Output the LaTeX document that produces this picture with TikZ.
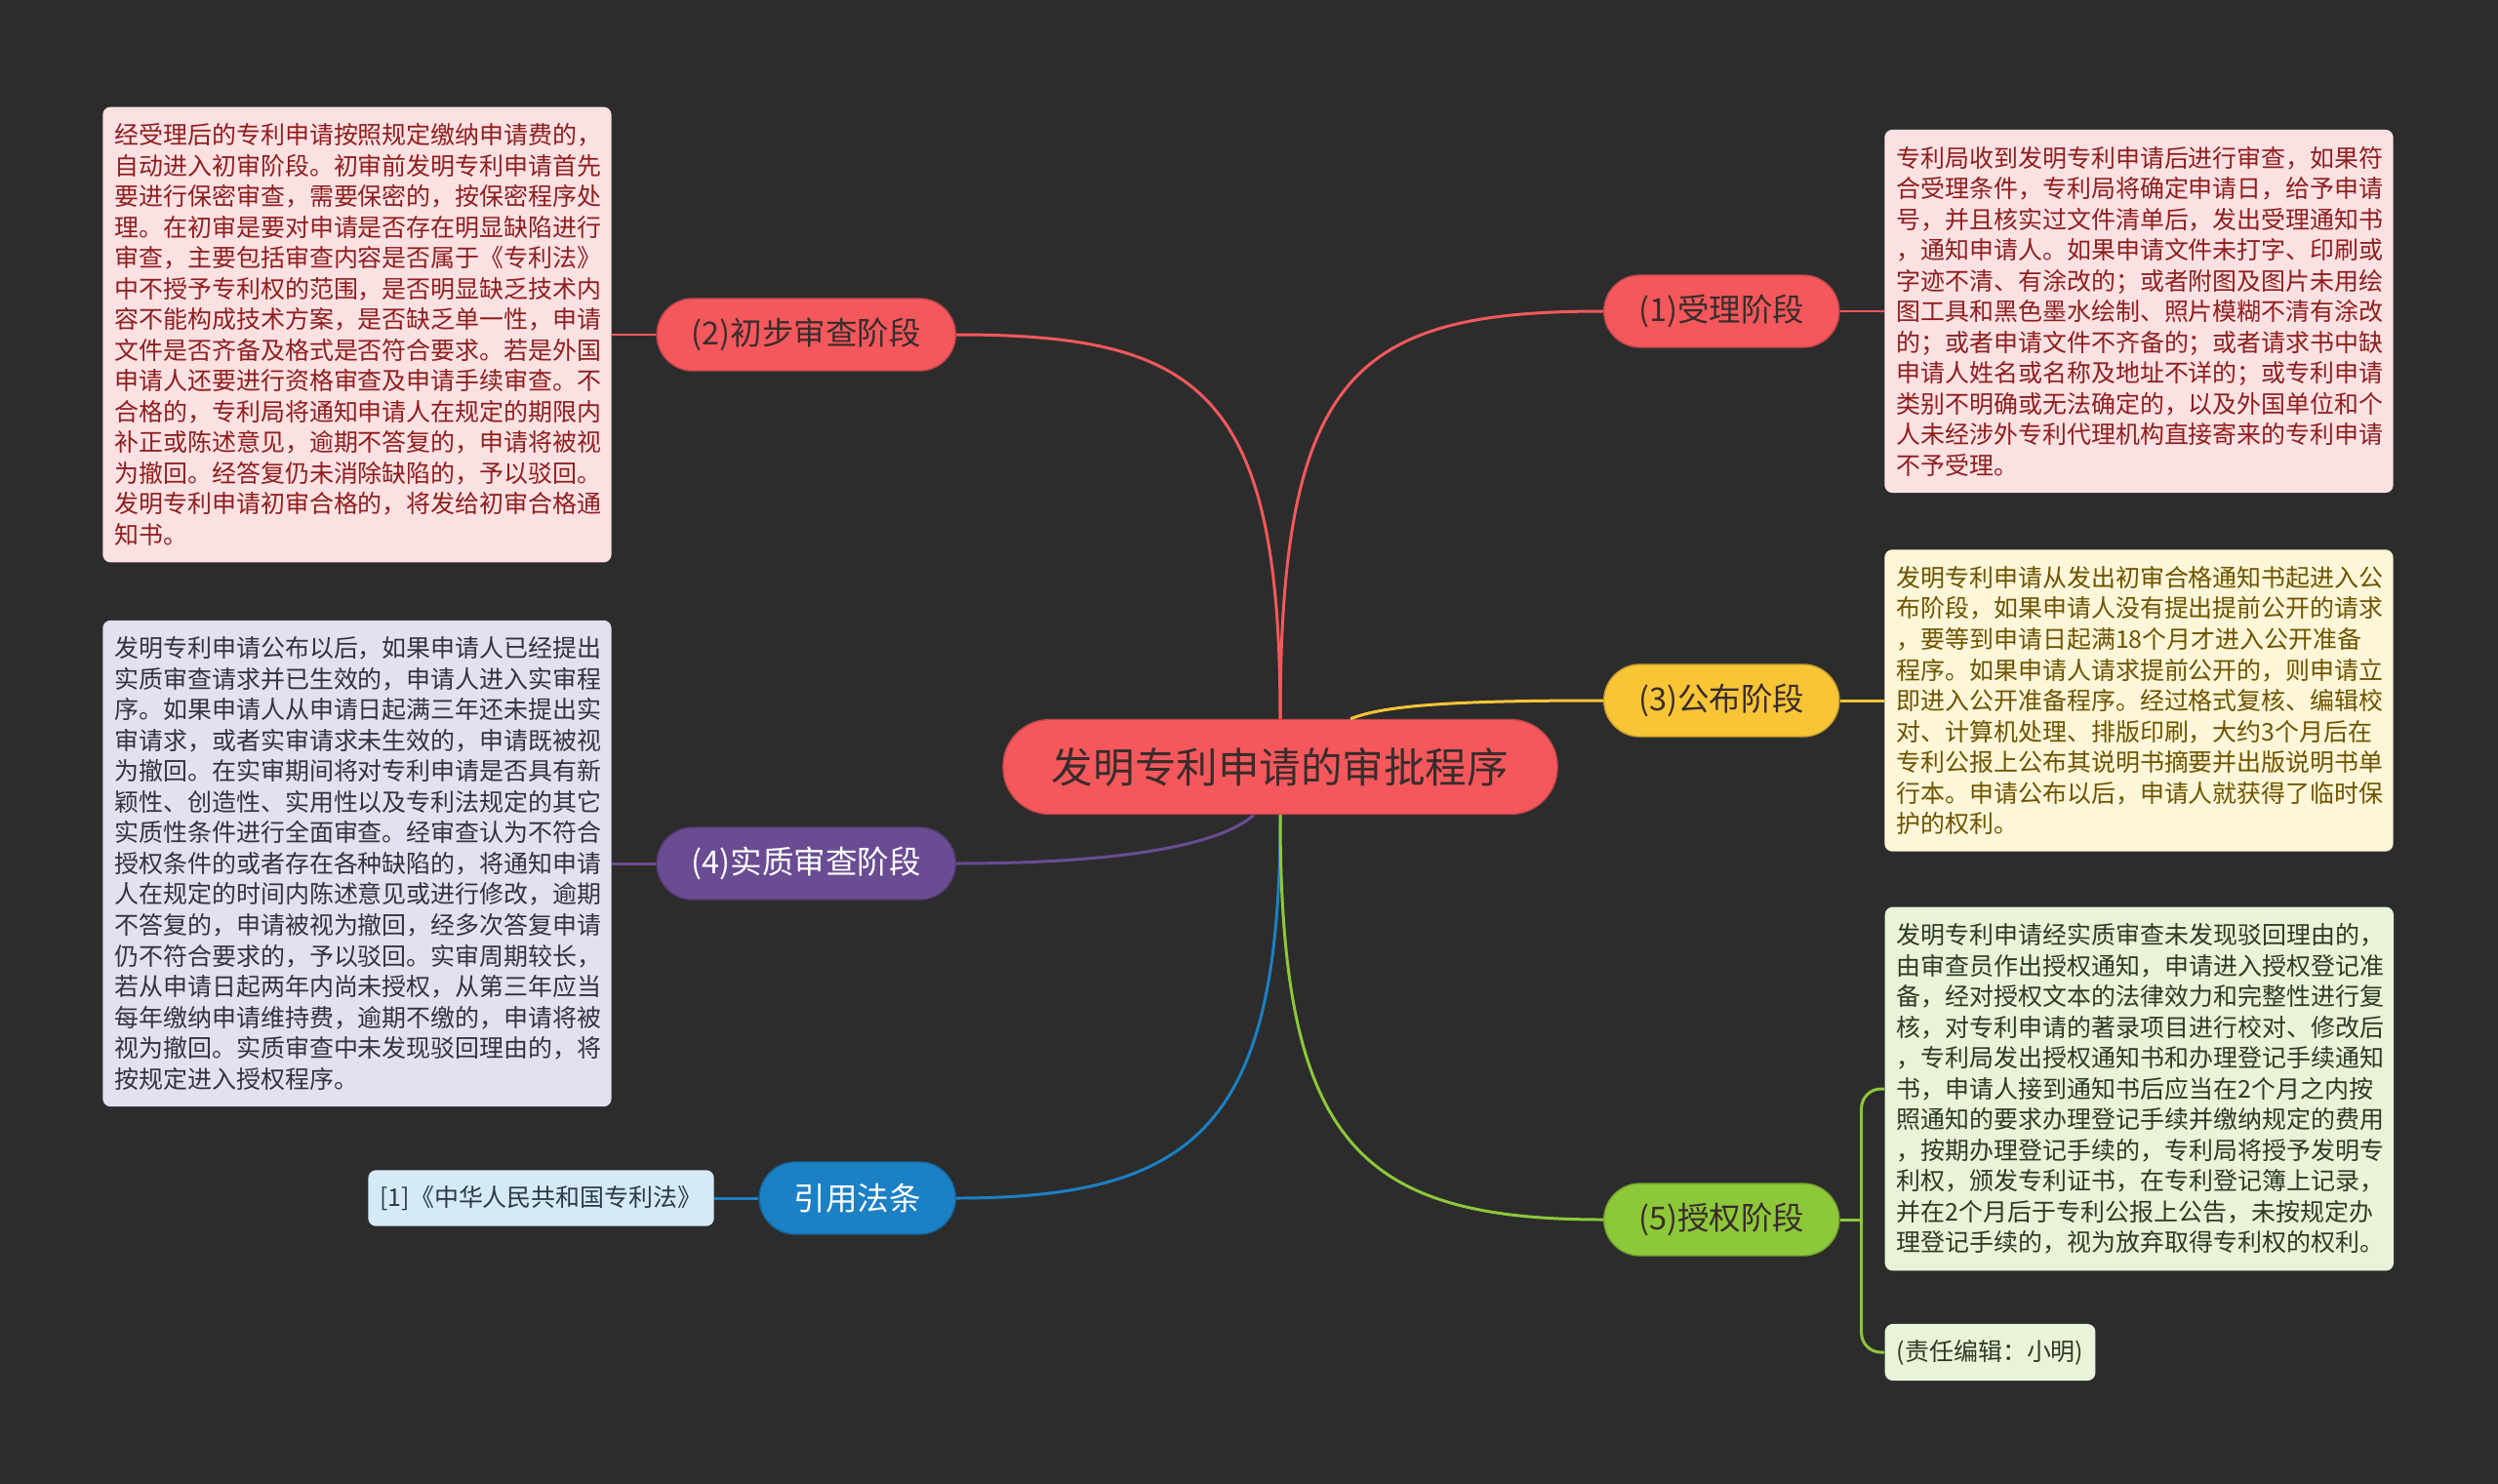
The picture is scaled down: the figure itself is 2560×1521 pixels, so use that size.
\documentclass[tikz,border=0pt]{standalone}
\usepackage{fontspec}
\setmainfont{Noto Sans CJK SC}
\usepackage{tikz}
\usetikzlibrary{positioning}

\definecolor{bgdark}{HTML}{2C2C2C}
\definecolor{redc}{HTML}{F5585C}
\definecolor{yellowc}{HTML}{F8C537}
\definecolor{purplec}{HTML}{6A4C93}
\definecolor{bluec}{HTML}{1B80C4}
\definecolor{greenc}{HTML}{8DC83A}
\definecolor{darkink}{HTML}{3A2C2C}
\definecolor{pinkbox}{HTML}{FCE1E3}
\definecolor{pinkink}{HTML}{8E1F1F}
\definecolor{yellowbox}{HTML}{FDF6D8}
\definecolor{yellowink}{HTML}{6E5400}
\definecolor{lilacbox}{HTML}{E3E0EF}
\definecolor{lilacink}{HTML}{33333F}
\definecolor{greenbox}{HTML}{E8F3DA}
\definecolor{greenink}{HTML}{2F3A22}
\definecolor{bluebox}{HTML}{D5EAF6}
\definecolor{blueink}{HTML}{2A3A4A}

\tikzset{
  root/.style={fill=redc,draw=redc!80!black,line width=0.4pt,text=darkink,
    rounded corners=0.48cm,minimum height=0.97cm,inner xsep=0.5cm,
    font=\fontsize{12.1pt}{14pt}\selectfont},
  topic/.style={draw=#1!80!black,fill=#1,line width=0.4pt,rounded corners=0.37cm,
    minimum height=0.74cm,inner xsep=0.355cm,font=\fontsize{9.25pt}{11pt}\selectfont},
  leaf/.style={fill=#1,rounded corners=0.08cm,text width=4.97cm,align=left,
    inner xsep=0.12cm,inner ysep=0.17cm,font=\fontsize{7.1pt}{8.96pt}\selectfont},
  tag/.style={fill=#1,rounded corners=0.08cm,inner xsep=0.12cm,inner ysep=0.16cm,
    font=\fontsize{7.1pt}{8.96pt}\selectfont},
  link/.style={line width=0.85pt},
}

\begin{document}
\begin{tikzpicture}[x=0.01cm,y=-0.01cm,node distance=0.45cm]
\fill[bgdark] (0,0) rectangle (2560,1521);
% centre and stages
\node[root] (root) at (1312,786) {发明专利申请的审批程序};
\node[topic=redc,text=darkink,anchor=west] (n1) at (1643,319) {(1)受理阶段};
\node[topic=redc,text=darkink,anchor=east] (n2) at (980,343) {(2)初步审查阶段};
\node[topic=yellowc,text=darkink,anchor=west] (n3) at (1643,718) {(3)公布阶段};
\node[topic=purplec,text=white,anchor=east] (n4) at (980,885) {(4)实质审查阶段};
\node[topic=greenc,text=darkink,anchor=west] (n5) at (1643,1250) {(5)授权阶段};
\node[topic=bluec,text=white,anchor=east] (n6) at (980,1228) {引用法条};
% details
\node[leaf=pinkbox,text=pinkink,right=of n1] (b1) {专利局收到发明专利申请后进行审查，如果符\\
合受理条件，专利局将确定申请日，给予申请\\
号，并且核实过文件清单后，发出受理通知书\\
，通知申请人。如果申请文件未打字、印刷或\\
字迹不清、有涂改的；或者附图及图片未用绘\\
图工具和黑色墨水绘制、照片模糊不清有涂改\\
的；或者申请文件不齐备的；或者请求书中缺\\
申请人姓名或名称及地址不详的；或专利申请\\
类别不明确或无法确定的，以及外国单位和个\\
人未经涉外专利代理机构直接寄来的专利申请\\
不予受理。};
\node[leaf=pinkbox,text=pinkink,left=of n2] (b2) {经受理后的专利申请按照规定缴纳申请费的，\\
自动进入初审阶段。初审前发明专利申请首先\\
要进行保密审查，需要保密的，按保密程序处\\
理。在初审是要对申请是否存在明显缺陷进行\\
审查，主要包括审查内容是否属于《专利法》\\
中不授予专利权的范围，是否明显缺乏技术内\\
容不能构成技术方案，是否缺乏单一性，申请\\
文件是否齐备及格式是否符合要求。若是外国\\
申请人还要进行资格审查及申请手续审查。不\\
合格的，专利局将通知申请人在规定的期限内\\
补正或陈述意见，逾期不答复的，申请将被视\\
为撤回。经答复仍未消除缺陷的，予以驳回。\\
发明专利申请初审合格的，将发给初审合格通\\
知书。};
\node[leaf=yellowbox,text=yellowink,right=of n3] (b3) {发明专利申请从发出初审合格通知书起进入公\\
布阶段，如果申请人没有提出提前公开的请求\\
，要等到申请日起满18个月才进入公开准备\\
程序。如果申请人请求提前公开的，则申请立\\
即进入公开准备程序。经过格式复核、编辑校\\
对、计算机处理、排版印刷，大约3个月后在\\
专利公报上公布其说明书摘要并出版说明书单\\
行本。申请公布以后，申请人就获得了临时保\\
护的权利。};
\node[leaf=lilacbox,text=lilacink,left=of n4] (b4) {发明专利申请公布以后，如果申请人已经提出\\
实质审查请求并已生效的，申请人进入实审程\\
序。如果申请人从申请日起满三年还未提出实\\
审请求，或者实审请求未生效的，申请既被视\\
为撤回。在实审期间将对专利申请是否具有新\\
颖性、创造性、实用性以及专利法规定的其它\\
实质性条件进行全面审查。经审查认为不符合\\
授权条件的或者存在各种缺陷的，将通知申请\\
人在规定的时间内陈述意见或进行修改，逾期\\
不答复的，申请被视为撤回，经多次答复申请\\
仍不符合要求的，予以驳回。实审周期较长，\\
若从申请日起两年内尚未授权，从第三年应当\\
每年缴纳申请维持费，逾期不缴的，申请将被\\
视为撤回。实质审查中未发现驳回理由的，将\\
按规定进入授权程序。};
\node[leaf=greenbox,text=greenink,anchor=west] (b5) at (1931,1116) {发明专利申请经实质审查未发现驳回理由的，\\
由审查员作出授权通知，申请进入授权登记准\\
备，经对授权文本的法律效力和完整性进行复\\
核，对专利申请的著录项目进行校对、修改后\\
，专利局发出授权通知书和办理登记手续通知\\
书，申请人接到通知书后应当在2个月之内按\\
照通知的要求办理登记手续并缴纳规定的费用\\
，按期办理登记手续的，专利局将授予发明专\\
利权，颁发专利证书，在专利登记簿上记录，\\
并在2个月后于专利公报上公告，未按规定办\\
理登记手续的，视为放弃取得专利权的权利。};
\node[tag=greenbox,text=greenink,anchor=west] (c5) at (1931,1386) {(责任编辑：小明)};
\node[tag=bluebox,text=blueink,left=of n6] (c6) {[1]《中华人民共和国专利法》};
% connectors
\draw[link,redc] (root.north) .. controls (1312,380) and (1390,319) .. (n1.west);
\draw[link,redc] (root.north) .. controls (1312,400) and (1230,343) .. (n2.east);
\draw[link,yellowc] ([xshift=0.72cm]root.north) .. controls (1420,722) and (1500,718) .. (n3.west);
\draw[link,purplec] ([xshift=-0.27cm]root.south) .. controls (1240,875) and (1100,885) .. (n4.east);
\draw[link,bluec] (root.south) .. controls (1312,1150) and (1230,1228) .. (n6.east);
\draw[link,greenc] (root.south) .. controls (1312,1170) and (1390,1250) .. (n5.west);
\draw[link,redc] (n1.east) -- (b1.west);
\draw[link,redc] (n2.west) -- (b2.east);
\draw[link,yellowc] (n3.east) -- (b3.west);
\draw[link,purplec] (n4.west) -- (b4.east);
\draw[link,bluec] (n6.west) -- (c6.east);
\coordinate (fork) at ([xshift=0.22cm]n5.east);
\draw[link,greenc] (n5.east) -- (fork);
\draw[link,greenc,rounded corners=0.2cm] (fork) |- (b5.west);
\draw[link,greenc,rounded corners=0.2cm] (fork) |- (c5.west);
\end{tikzpicture}
\end{document}
